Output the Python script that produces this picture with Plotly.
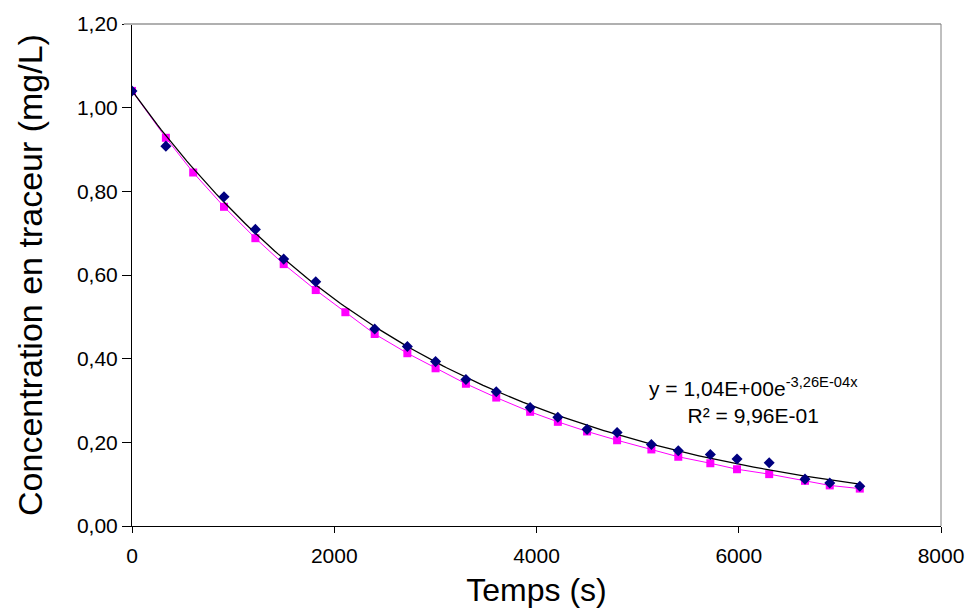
import numpy as np
import plotly.graph_objects as go

# Time (s)
temps = [0, 335, 605, 910, 1220, 1500, 1817, 2110, 2400, 2723, 3002, 3302, 3602,
         3937, 4211, 4500, 4797, 5136, 5402, 5719, 5983, 6301, 6655, 6900, 7197]
# Measured concentration (mg/L) - navy diamonds
mesure = [1.040, 0.908, None, 0.787, 0.709, 0.638, 0.584, None, 0.471, 0.429, 0.393,
          0.350, 0.321, 0.283, 0.260, 0.231, 0.2235, 0.195, 0.180, 0.171, 0.160,
          0.1514, 0.112, 0.1028, 0.0949]
# Second series (mg/L) - magenta squares
modele = [1.040, 0.928, 0.845, 0.763, 0.688, 0.626, 0.564, 0.511, 0.459, 0.413, 0.377,
          0.340, 0.307, 0.273, 0.249, 0.226, 0.205, 0.183, 0.1655, 0.150, 0.1357,
          0.124, 0.108, 0.097, 0.0894]

x_ticks = [0, 2000, 4000, 6000, 8000]
y_ticks = [0.0, 0.2, 0.4, 0.6, 0.8, 1.0, 1.2]

# Exponential trendline fitted to the measured series (log-linear fit, as Excel does)
xm = np.array([t for t, v in zip(temps, mesure) if v is not None], dtype=float)
ym = np.array([v for v in mesure if v is not None], dtype=float)
k, lna = np.polyfit(xm, np.log(ym), 1)
xt = np.linspace(xm.min(), xm.max(), 200)
yt = np.exp(lna) * np.exp(k * xt)

FONT = "Liberation Sans, Arial, sans-serif"

fig = go.Figure()
fig.add_trace(go.Scatter(x=temps, y=modele, mode="lines+markers",
                         line=dict(color="#FF00FF", width=1),
                         marker=dict(symbol="square", size=8, color="#FF00FF"),
                         showlegend=False))
fig.add_trace(go.Scatter(x=xt, y=yt, mode="lines",
                         line=dict(color="black", width=1.3), showlegend=False))
fig.add_trace(go.Scatter(x=temps, y=mesure, mode="markers",
                         marker=dict(symbol="diamond", size=8.5, color="#000080"),
                         showlegend=False))

fig.add_annotation(x=6150, y=0.30, xref="x", yref="y",
                   text="y = 1,04E+00e<sup>-3,26E-04x</sup><br>R² = 9,96E-01",
                   showarrow=False, align="center", xanchor="center", yanchor="middle",
                   font=dict(family=FONT, size=21, color="black"))

# top and right plot-area borders
fig.add_shape(type="line", xref="paper", yref="paper", x0=-0.01, x1=1, y0=1, y1=1,
              line=dict(color="#b0b0b0", width=2))
fig.add_shape(type="line", xref="paper", yref="paper", x0=1, x1=1, y0=0, y1=1,
              line=dict(color="#808080", width=1))

fig.update_layout(
    width=976, height=614,
    margin=dict(l=132, r=34, t=17, b=87),
    paper_bgcolor="white", plot_bgcolor="white",
    separators=", ",
    font=dict(family=FONT, color="black"),
)
fig.update_xaxes(range=[0, 8000], tickvals=x_ticks, ticks="outside", ticklen=6,
                 tickcolor="black", showline=True, linecolor="black", linewidth=1,
                 showgrid=False, zeroline=False, tickfont=dict(size=21),
                 ticklabelstandoff=5,
                 title=dict(text="Temps (s)", font=dict(size=32), standoff=12))
fig.update_yaxes(range=[0, 1.2], tickvals=y_ticks, tickformat=".2f", ticks="outside",
                 ticklen=9, tickcolor="black", showline=True, linecolor="black",
                 linewidth=1, showgrid=False, zeroline=False, tickfont=dict(size=21),
                 title=dict(text="Concentration en traceur (mg/L)", font=dict(size=34),
                            standoff=24))

fig.write_html("out.html", config={"displayModeBar": False},
               post_script="document.body.style.margin='0';")
